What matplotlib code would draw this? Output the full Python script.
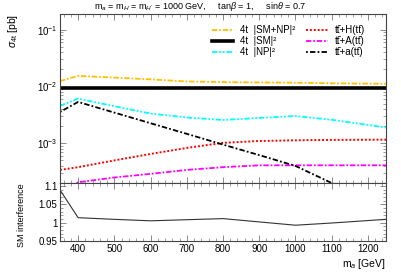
import matplotlib
matplotlib.use("Agg")
import matplotlib.pyplot as plt
from matplotlib.ticker import MultipleLocator, LogLocator, NullFormatter, FixedLocator

plt.rcParams['font.family'] = ['Liberation Sans', 'DejaVu Sans']
plt.rcParams['mathtext.fontset'] = 'custom'
plt.rcParams['mathtext.rm'] = 'Liberation Sans'
plt.rcParams['mathtext.it'] = 'Liberation Sans:italic'
plt.rcParams['mathtext.bf'] = 'Liberation Sans:bold'

# mass points (GeV)
mass = [350, 400, 500, 600, 700, 800, 900, 1000, 1100, 1250]

# cross sections [pb]
sm_np = [0.0125, 0.0154, 0.0144, 0.0134, 0.0123, 0.0120, 0.0118, 0.0117, 0.0114, 0.0112]
sm = [0.0094] * len(mass)
np_only = [0.00455, 0.00615, 0.0045, 0.00335, 0.00285, 0.00258, 0.0028, 0.00303, 0.0026, 0.0019]
ttH = [0.00034, 0.00038, 0.00050, 0.00065, 0.00083, 0.00102, 0.00110, 0.00113, 0.00115, 0.00116]
ttA = [0.00015, 0.000206, 0.00025, 0.00029, 0.00034, 0.00038, 0.00041, 0.00041, 0.00041, 0.00041]
tta = [0.00357, 0.00536, 0.00348, 0.00226, 0.00147, 0.00095, 0.00062, 0.0004, 0.0002, 0.00008]

# ratio panel
sm_interf = [1.089, 1.0135, 1.009, 1.005, 1.008, 1.011, 1.002, 0.993, 0.999, 1.009]

W, H = 402, 274
fig = plt.figure(figsize=(W / 100, H / 100), dpi=100)

left = 60 / W
width = (386 - 60) / W
ax = fig.add_axes([left, (H - 183) / H, width, (183 - 14) / H])
axr = fig.add_axes([left, (H - 241) / H, width, (241 - 183) / H], sharex=ax)

fs = 6.5
frame_col = '#444444'
tt = 't\u0074\u0304'

ax.plot(mass, sm_np, color='#ffc000', lw=1.3, dashes=(3, 1, 1, 1), label='4t  |SM+NP|\u00b2')
ax.plot(mass, sm, color='black', lw=2.6, label='4t  |SM|\u00b2')
ax.plot(mass, np_only, color='#00ffff', lw=1.3, dashes=(3, 1, 1, 1, 1, 1), label='4t  |NP|\u00b2')
ax.plot(mass, ttH, color='red', lw=1.4, dashes=(1, 1), label=f'{tt}+H({tt})')
ax.plot(mass, ttA, color='#ff00ff', lw=1.3, dashes=(3, 1, 1, 1), label=f'{tt}+A({tt})')
ax.plot(mass, tta, color='black', lw=1.3, dashes=(1, 1.2, 3, 1.2), label=f'{tt}+a({tt})')

ax.set_yscale('log')
ax.set_ylim(2.0e-4, 0.19)
ax.set_xlim(350, 1250)
ax.yaxis.set_major_locator(LogLocator(base=10))
ax.yaxis.set_minor_locator(LogLocator(base=10, subs=range(2, 10)))
ax.yaxis.set_minor_formatter(NullFormatter())
ax.tick_params(axis='x', labelbottom=False)

axr.plot(mass, sm_interf, color='#333333', lw=0.8)
axr.set_ylim(0.95, 1.108)
axr.yaxis.set_major_locator(FixedLocator([0.95, 1.0, 1.05, 1.1]))
axr.yaxis.set_minor_locator(MultipleLocator(0.01))
axr.set_yticklabels(['0.95', '1', '1.05', '1.1'])
axr.xaxis.set_major_locator(MultipleLocator(100))
axr.xaxis.set_minor_locator(MultipleLocator(20))

for a in (ax, axr):
    a.tick_params(which='both', direction='in', top=True, right=True,
                  color='#777777', labelsize=fs + 0.5, pad=2)
    a.tick_params(which='major', length=4, width=0.6)
    a.tick_params(which='minor', length=2, width=0.5)
    for s in a.spines.values():
        s.set_color(frame_col)
        s.set_linewidth(0.8)

ax.legend(loc='upper left', bbox_to_anchor=(212 / W, 1 - 25 / H), bbox_transform=fig.transFigure,
          ncol=2, frameon=False, fontsize=7, handlelength=2.2, handletextpad=0.7,
          columnspacing=1.1, labelspacing=0.1, borderpad=0, borderaxespad=0)

fig.text(200 / W, 1 - 6.5 / H,
         r"m$_a$ = m$_H$ = m$_{H'}$ = 1000 GeV,     tan$\beta$ = 1,     sin$\theta$ = 0.7",
         ha='center', va='center', fontsize=fs)
fig.text(13 / W, 1 - 14 / H, r'$\sigma_{\mathrm{4t}}$ [pb]', rotation=90, ha='center', va='top', fontsize=7.5)
fig.text(22 / W, 1 - 183 / H, 'SM interference', rotation=90, ha='center', va='top', fontsize=fs)
fig.text(386 / W, 1 - 264 / H, r'm$_a$ [GeV]', ha='right', va='center', fontsize=7.5)

fig.savefig('out.png', dpi=100)
